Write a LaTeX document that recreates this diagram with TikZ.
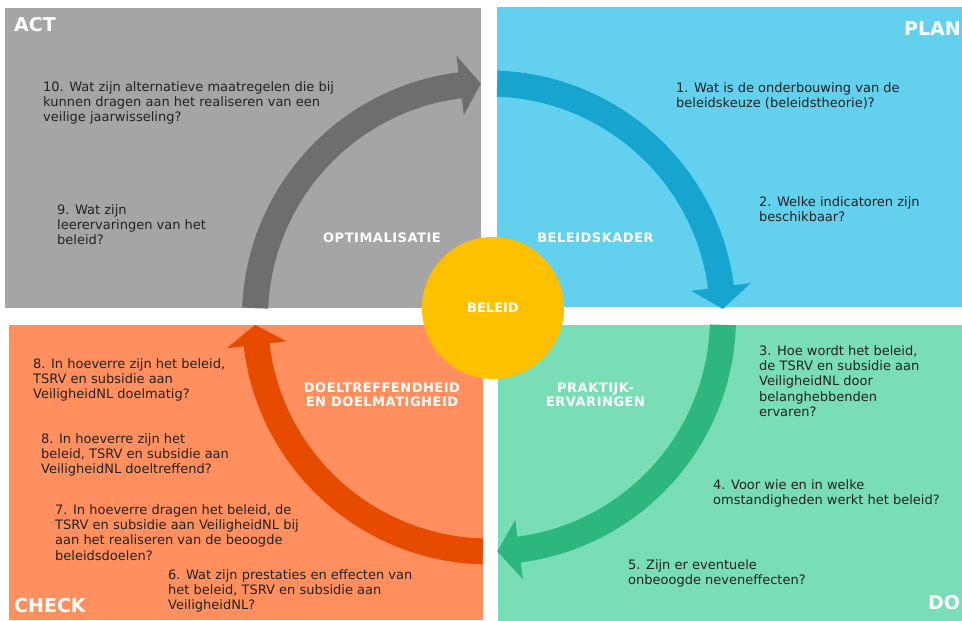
\documentclass[tikz,border=0pt]{standalone}
\usepackage{fontspec}
\setmainfont{DejaVu Sans}
\definecolor{actvlak}{HTML}{A5A5A5}
\definecolor{actpijl}{HTML}{6E6E6E}
\definecolor{planvlak}{HTML}{63D0EE}
\definecolor{planpijl}{HTML}{16A5CF}
\definecolor{dovlak}{HTML}{79DDB5}
\definecolor{dopijl}{HTML}{2DB67E}
\definecolor{checkvlak}{HTML}{FF8F5E}
\definecolor{checkpijl}{HTML}{E64B00}
\definecolor{beleidgeel}{HTML}{FFC000}
\definecolor{tekst}{HTML}{222222}
\tikzset{
  vraag/.style={anchor=north west, inner sep=0pt, align=left, text=tekst, font=\fontsize{13}{15.2}\selectfont},
  fase/.style={inner sep=0pt, align=center, text=white, font=\bfseries\fontsize{13}{14}\selectfont\addfontfeatures{LetterSpace=4}},
  kwadrant/.style={anchor=west, inner sep=0pt, text=white, font=\bfseries\fontsize{19}{22}\selectfont},
}
% kleur, begin, achterkant punt, punt
\newcommand{\ringpijl}[4]{%
  \fill[#1] (#2:247) arc[start angle=#2, end angle=#3, radius=247] -- (#3:264) -- (#4:234)
    -- (#3:204) -- (#3:221) arc[start angle=#3, end angle=#2, radius=221] -- cycle;}
\begin{document}
\begin{tikzpicture}[x=1pt,y=1pt]
\clip (0,0) rectangle (962,621);
\fill[white] (0,0) rectangle (962,621);
\fill[actvlak] (5,313) rectangle (481,613);
\fill[planvlak] (497,314) rectangle (962,614);
\fill[checkvlak] (9,1) rectangle (483,296);
\fill[dovlak] (498,0) rectangle (962,296);
\begin{scope}[shift={(489,303.5)}]
\ringpijl{actpijl}{177.7}{97.1}{92}
\ringpijl{planpijl}{88}{7.5}{2.1}
\ringpijl{dopijl}{-1.8}{-82.6}{-88}
\ringpijl{checkpijl}{-91.5}{-173.3}{-178.2}
\end{scope}
\node[circle, fill=beleidgeel, minimum size=142pt, inner sep=0pt, text=white, font=\bfseries\fontsize{13}{15}\selectfont] (beleid) at (493,313) {BELEID};
\node[kwadrant] (act) at (14,596) {ACT};
\node[kwadrant] (plan) at (904,592) {PLAN};
\node[kwadrant] (check) at (14,15) {CHECK};
\node[kwadrant] (do) at (928,18) {DO};
\node[fase] (optimalisatie) at (382,383) {OPTIMALISATIE};
\node[fase] (beleidskader) at (595.5,383) {BELEIDSKADER};
\node[fase] (praktijk) at (595.5,226) {PRAKTIJK-\\ERVARINGEN};
\node[fase] (doeltreffend) at (382,226) {DOELTREFFENDHEID\\EN DOELMATIGHEID};
\node[vraag] (v1) at (676,538.5) {1. Wat is de onderbouwing van de\\beleidskeuze (beleidstheorie)?};
\node[vraag] (v2) at (759,424.5) {2. Welke indicatoren zijn\\beschikbaar?};
\node[vraag] (v3) at (759,275.5) {3. Hoe wordt het beleid,\\de TSRV en subsidie aan\\VeiligheidNL door\\belanghebbenden\\ervaren?};
\node[vraag] (v4) at (713,141.5) {4. Voor wie en in welke\\omstandigheden werkt het beleid?};
\node[vraag] (v5) at (628,61.5) {5. Zijn er eventuele\\onbeoogde neveneffecten?};
\node[vraag] (v6) at (168,51.5) {6. Wat zijn prestaties en effecten van\\het beleid, TSRV en subsidie aan\\VeiligheidNL?};
\node[vraag] (v7) at (55,116.5) {7. In hoeverre dragen het beleid, de\\TSRV en subsidie aan VeiligheidNL bij\\aan het realiseren van de beoogde\\beleidsdoelen?};
\node[vraag] (v8b) at (41,187.5) {8. In hoeverre zijn het\\beleid, TSRV en subsidie aan\\VeiligheidNL doeltreffend?};
\node[vraag] (v8a) at (33,262.5) {8. In hoeverre zijn het beleid,\\TSRV en subsidie aan\\VeiligheidNL doelmatig?};
\node[vraag] (v9) at (57,416.5) {9. Wat zijn\\leerervaringen van het\\beleid?};
\node[vraag] (v10) at (43,539.5) {10. Wat zijn alternatieve maatregelen die bij\\kunnen dragen aan het realiseren van een\\veilige jaarwisseling?};
\end{tikzpicture}
\end{document}
